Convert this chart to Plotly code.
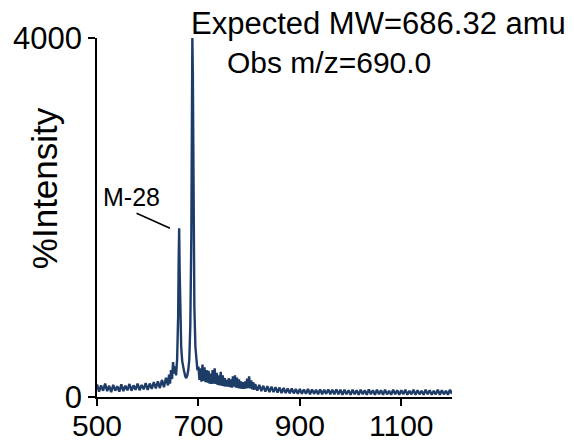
import plotly.graph_objects as go

# m/z values
mz = [500, 504, 508, 512, 516, 520, 524, 528, 532, 536, 540, 544, 548, 552, 556, 560,
      564, 568, 572, 576, 580, 584, 588, 592, 596, 600, 604, 608, 612, 616, 620, 624,
      628, 632, 636, 640, 642, 644, 646, 648, 650, 652, 654, 656, 658, 660, 661, 662,
      663, 664, 666, 668, 670, 672, 674, 676, 678, 680, 682, 684, 686, 687, 688, 689,
      690, 692, 694, 696, 698, 700, 702, 704, 706, 708, 710, 712, 714, 716, 718, 720,
      722, 724, 726, 728, 730, 732, 734, 736, 738, 740, 742, 744, 746, 748, 750, 752,
      754, 756, 758, 760, 762, 764, 766, 768, 770, 772, 774, 776, 778, 780, 782, 784,
      786, 788, 790, 792, 794, 796, 798, 800, 802, 804, 806, 808, 810, 812, 816, 820,
      824, 828, 832, 836, 840, 844, 848, 852, 856, 860, 864, 868, 872, 876, 880, 884,
      888, 892, 896, 900, 904, 908, 912, 916, 920, 924, 928, 932, 936, 940, 944, 948,
      952, 956, 960, 964, 968, 972, 976, 980, 984, 988, 992, 996, 1000, 1004, 1008, 1012,
      1016, 1020, 1024, 1028, 1032, 1036, 1040, 1044, 1048, 1052, 1056, 1060, 1064, 1068,
      1072, 1076, 1080, 1084, 1088, 1092, 1096, 1100, 1104, 1108, 1112, 1116, 1120, 1124,
      1128, 1132, 1136, 1140, 1144, 1148, 1152, 1156, 1160, 1164, 1168, 1172, 1176, 1180,
      1184, 1188, 1192, 1196, 1200]

# intensity values
intensity = [140, 60, 130, 70, 150, 65, 125, 55, 135, 70, 120, 60, 140, 65, 125, 75,
             145, 70, 130, 80, 150, 75, 135, 85, 155, 80, 150, 90, 165, 95, 175, 100,
             190, 110, 215, 130, 250, 150, 300, 200, 390, 260, 340, 240, 420, 900, 1500, 1880,
             1400, 900, 560, 400, 320, 280, 230, 210, 240, 300, 420, 800, 1800, 3200, 4000, 3600,
             2200, 1000, 560, 380, 300, 340, 190, 320, 170, 360, 180, 330, 165, 300, 160, 290,
             150, 260, 145, 300, 150, 320, 145, 270, 135, 240, 130, 280, 125, 240, 120, 210,
             115, 190, 115, 210, 110, 195, 105, 230, 115, 240, 105, 215, 100, 195, 95, 175,
             90, 165, 90, 175, 95, 205, 100, 230, 95, 185, 85, 165, 80, 145, 70, 135,
             65, 125, 60, 120, 55, 115, 55, 110, 50, 105, 45, 100, 45, 95, 40, 95,
             40, 90, 35, 90, 35, 85, 35, 90, 30, 85, 35, 80, 30, 85, 30, 80,
             35, 85, 30, 80, 30, 85, 30, 80, 25, 80, 30, 75, 25, 80, 30, 75,
             25, 80, 30, 75, 25, 85, 30, 75, 25, 80, 30, 75, 25, 80,
             30, 70, 25, 80, 30, 75, 25, 75, 30, 80, 25, 70, 30, 80,
             25, 75, 30, 70, 25, 80, 30, 75, 25, 70, 30, 80, 25, 75,
             30, 70, 25, 80, 35]

x_ticks = [500, 700, 900, 1100]
y_ticks = [0, 4000]

FONT = "Liberation Sans, Arial, sans-serif"

fig = go.Figure()
fig.add_trace(go.Scatter(
    x=mz, y=intensity, mode="lines",
    line=dict(color="#1e3c68", width=2.4),
    hoverinfo="skip", showlegend=False, cliponaxis=False,
))

fig.update_layout(
    width=574, height=442,
    margin=dict(l=97, r=122, t=38, b=45, autoexpand=False),
    paper_bgcolor="white", plot_bgcolor="white",
    font=dict(family=FONT, color="black"),
    xaxis=dict(
        range=[500, 1200], tickvals=x_ticks, ticktext=[str(v) for v in x_ticks],
        showgrid=False, zeroline=False, showline=True, linecolor="black", linewidth=1.8,
        ticks="outside", ticklen=7, tickwidth=1.5, tickcolor="black", automargin=False,
        tickfont=dict(size=30, family=FONT, color="black"),
        ticklabelstandoff=-6,
    ),
    yaxis=dict(
        range=[0, 4000], tickvals=y_ticks, ticktext=[str(v) for v in y_ticks],
        showgrid=False, zeroline=False, showline=True, linecolor="black", linewidth=1.8,
        ticks="outside", ticklen=7, tickwidth=1.5, tickcolor="black", automargin=False,
        tickfont=dict(size=31, family=FONT, color="black"),
        ticklabelstandoff=0,
    ),
)

fig.add_annotation(text="Expected MW=686.32 amu", x=0.259, y=1.039, xref="paper", yref="paper",
                   xanchor="left", yanchor="middle", showarrow=False,
                   font=dict(size=31, family=FONT, color="black"))
fig.add_annotation(text="Obs m/z=690.0", x=0.361, y=0.933, xref="paper", yref="paper",
                   xanchor="left", yanchor="middle", showarrow=False,
                   font=dict(size=30, family=FONT, color="black"))
fig.add_annotation(text="M-28", x=0.097, y=0.556, xref="paper", yref="paper",
                   xanchor="center", yanchor="middle", showarrow=False,
                   font=dict(size=25, family=FONT, color="black"))
fig.add_annotation(text="%Intensity", x=-0.149, y=0.582, xref="paper", yref="paper",
                   xanchor="center", yanchor="middle", showarrow=False, textangle=-90,
                   font=dict(size=35, family=FONT, color="black"))
fig.add_shape(type="line", x0=578, y0=2047, x1=644, y1=1880, xref="x", yref="y",
              line=dict(color="black", width=1.5))

fig.write_html("out.html", config={"displayModeBar": False},
               post_script="document.body.style.margin='0';")
